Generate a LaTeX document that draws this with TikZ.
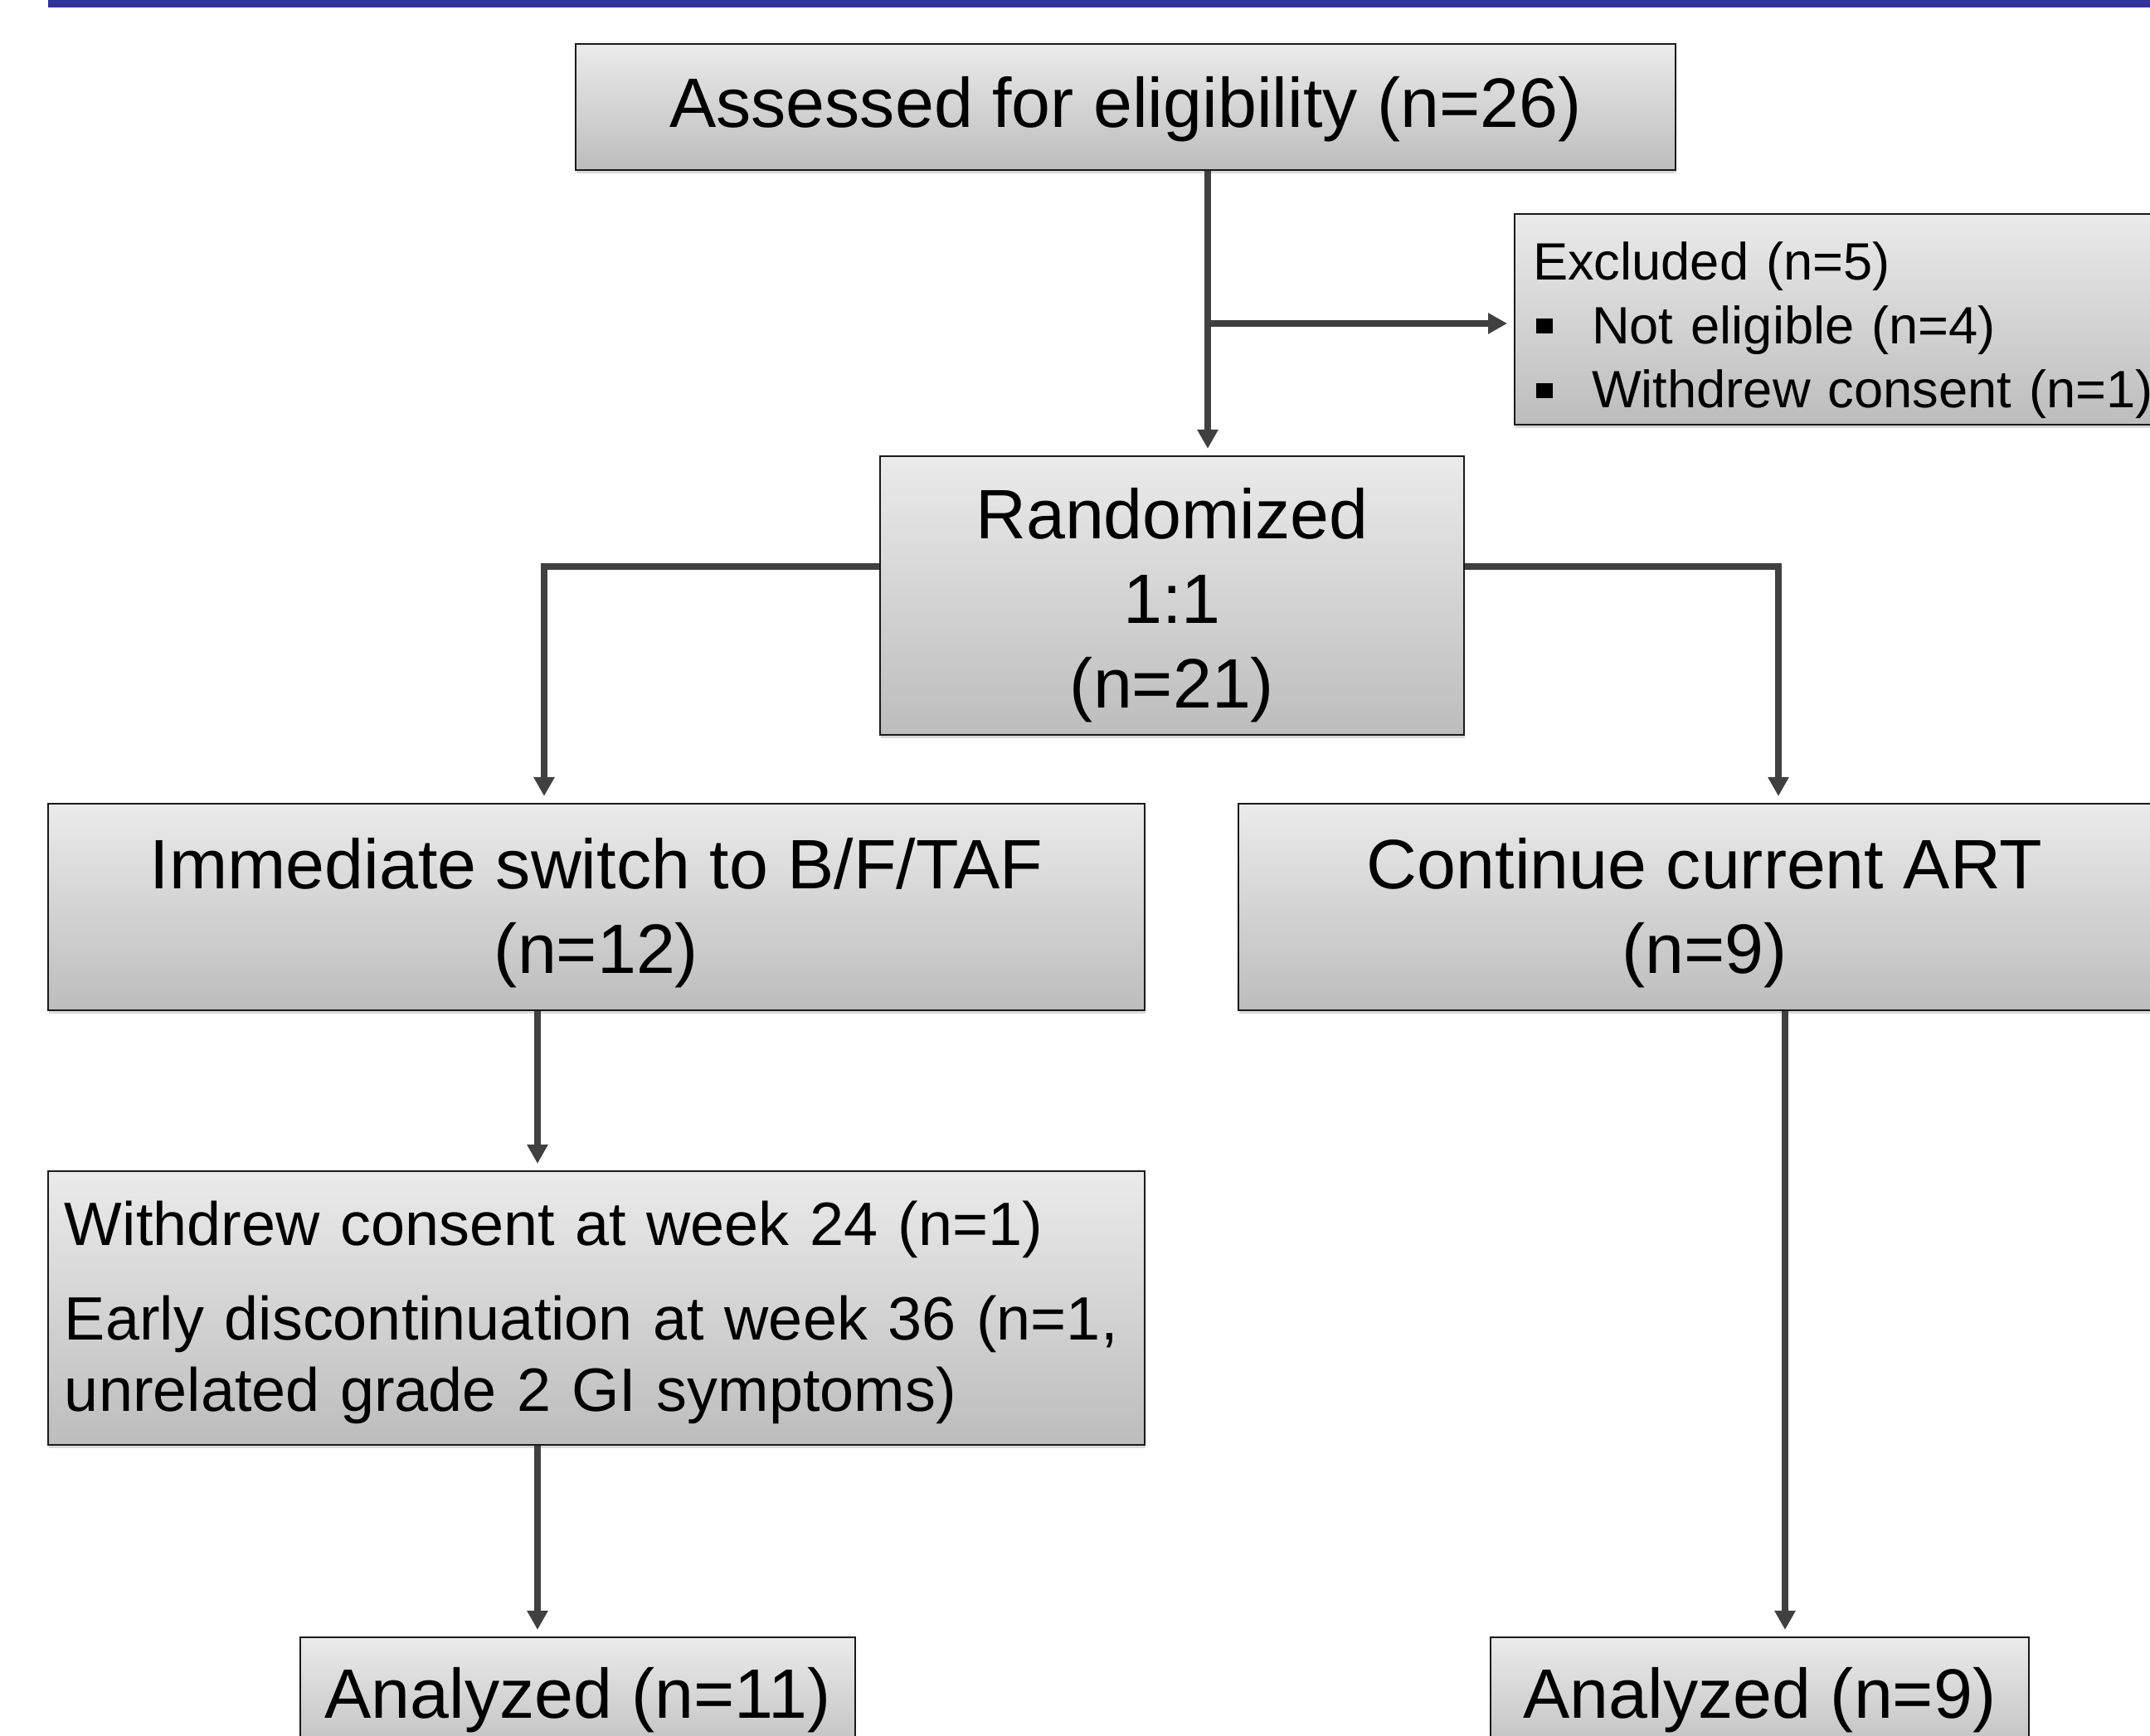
\documentclass[tikz,border=0pt]{standalone}
\usepackage{fontspec}
\setmainfont{Liberation Sans}
\usetikzlibrary{arrows.meta,shadows}
\definecolor{barblue}{RGB}{51,51,153}
\definecolor{linegray}{RGB}{64,64,64}
\newcommand{\bull}{\hspace{0.04cm}\raisebox{0.12cm}{\rule{0.2cm}{0.18cm}}\hspace{0.47cm}}
\newcommand{\dn}[1]{\rule{0pt}{#1}}

\begin{document}
\begin{tikzpicture}[
    box/.style={draw=black!90, line width=0.6pt, top color=black!8, bottom color=black!26,
      drop shadow={opacity=0.3, shadow xshift=0.01cm, shadow yshift=-0.04cm},
      inner sep=0pt, align=center},
    big/.style={font=\fontsize{24}{29}\selectfont},
    arr/.style={draw=linegray, line width=2.2pt, shorten >=0.08cm,
      -{Triangle[length=0.23cm,width=0.24cm]}}
  ]
  \useasboundingbox (0,0) rectangle (25.92,20.92);
  \clip (0,0) rectangle (25.92,20.92);
  \fill[barblue] (0.58,20.83) rectangle (25.92,20.92);

  \node[box, big, minimum width=13.26cm, minimum height=1.52cm] (assess) at (13.57,19.63) {\dn{0.66cm}Assessed for eligibility (n=26)};
  \node[box, anchor=west, minimum width=8.1cm, minimum height=2.54cm, inner xsep=0.22cm,
    text width=7.66cm, align=left, font=\fontsize{18}{22}\selectfont] (excl) at (18.25,17.07)
    {\dn{0.72cm}Excluded (n=5)\\ \bull Not eligible (n=4)\\ \bull Withdrew consent (n=1)};
  \node[box, big, minimum width=7.04cm, minimum height=3.36cm] (rand) at (14.13,13.74) {\dn{0.85cm}Randomized\\1:1\\(n=21)};

  \node[box, big, minimum width=13.22cm, minimum height=2.49cm] (imm) at (7.19,9.985) {\dn{0.75cm}Immediate switch to B/F/TAF\\(n=12)};
  \node[box, big, minimum width=11.24cm, minimum height=2.49cm] (cont) at (20.55,9.985) {\dn{0.75cm}Continue current ART\\(n=9)};

  \node[box, minimum width=13.22cm, minimum height=3.30cm, inner xsep=0.2cm, text width=12.82cm,
    align=left, font=\fontsize{21}{24.5}\selectfont] (wd) at (7.19,5.15)
    {\dn{0.64cm}Withdrew consent at week 24 (n=1)\\[8pt] Early discontinuation at week 36 (n=1,\\ unrelated grade 2 GI symptoms)};

  \node[box, big, minimum width=6.69cm, minimum height=1.52cm] (an1) at (6.965,0.42) {Analyzed (n=11)};
  \node[box, big, minimum width=6.49cm, minimum height=1.52cm] (an2) at (21.215,0.42) {Analyzed (n=9)};

  \coordinate (trunk) at (14.56,17.02);
  \coordinate (lsplit) at (6.56,14.09);
  \coordinate (rsplit) at (21.44,14.09);
  \coordinate (ldown) at (6.48,0);
  \coordinate (rdown) at (21.52,0);

  \draw[arr] (assess.south -| trunk) -- (rand.north -| trunk);
  \draw[arr] (trunk) -- (trunk -| excl.west);
  \draw[arr] (rand.west |- lsplit) -| (imm.north -| lsplit);
  \draw[arr] (rand.east |- rsplit) -| (cont.north -| rsplit);
  \draw[arr] (imm.south -| ldown) -- (wd.north -| ldown);
  \draw[arr] (wd.south -| ldown) -- (an1.north -| ldown);
  \draw[arr] (cont.south -| rdown) -- (an2.north -| rdown);
\end{tikzpicture}
\end{document}
